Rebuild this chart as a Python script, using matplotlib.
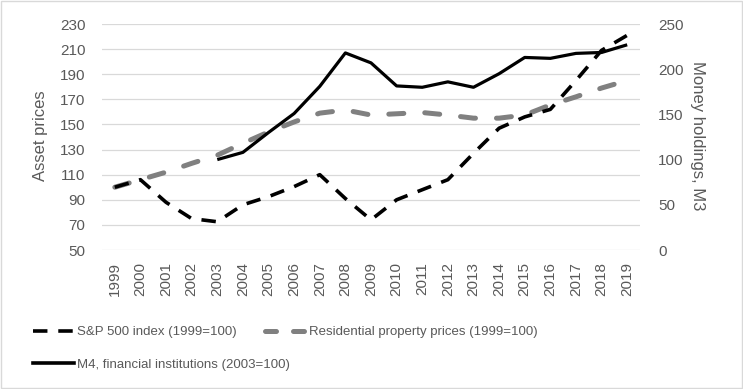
import numpy as np
import matplotlib
matplotlib.use("Agg")
import matplotlib.pyplot as plt
from matplotlib.lines import Line2D
from matplotlib.patches import Rectangle

# data
years = list(range(1999, 2020))
sp500 = [100, 106, 88, 75, 72.5, 86, 92.5, 100.5, 110, 91, 74, 90, 98, 106, 127, 147, 156, 162, 185, 209, 221]
property_prices = [100, 106, 112, 119, 125.5, 135, 144, 152, 159, 161.5, 157.5, 158.5, 159.5, 157.5, 155, 155, 157.5, 165.5, 172, 179, 185]
m4_years = list(range(2003, 2020))
m4 = [100, 108, 130, 151, 181, 218, 207, 181.5, 180, 186, 180, 195, 213, 212, 217.5, 218.5, 227]

left_ticks = [50, 70, 90, 110, 130, 150, 170, 190, 210, 230]
right_ticks = [0, 50, 100, 150, 200, 250]

txt = '#595959'
plt.rcParams['font.family'] = ['Liberation Sans', 'DejaVu Sans']

fig = plt.figure(figsize=(7.43, 3.89), dpi=100)
ax = fig.add_axes([102/743, 1-250/389, 538/743, 226/389])
ax2 = ax.twinx()

ax.plot(years, sp500, color='black', lw=2.6, dashes=(4, 3), dash_capstyle='butt', zorder=3)
ax.plot(years, property_prices, color='#808080', lw=3.6, dashes=(3, 4.2), dash_capstyle='round', zorder=2)
ax2.plot(m4_years, m4, color='black', lw=2.3, solid_capstyle='butt', zorder=3)

ax.set_ylim(50, 230)
ax.set_yticks(left_ticks)
ax2.set_ylim(0, 250)
ax2.set_yticks(right_ticks)
ax.set_xlim(1998.5, 2019.5)
ax.set_xticks(years)
ax.set_xticklabels([str(y) for y in years], rotation=90)

ax.grid(axis='y', color='#d9d9d9', lw=0.9)
ax.set_axisbelow(True)
for a in (ax, ax2):
    for s in a.spines.values():
        s.set_visible(False)
ax.tick_params(axis='y', length=0, pad=12, labelsize=11, labelcolor=txt)
ax.tick_params(axis='x', length=0, pad=9, labelsize=11, labelcolor=txt)
ax2.tick_params(axis='y', length=0, pad=13, labelsize=11, labelcolor=txt)

fig.text(40/743, 1-136/389, 'Asset prices', rotation=90, ha='center', va='center', fontsize=12, color=txt)
fig.text(698/743, 1-136/389, 'Money holdings, M3', rotation=-90, ha='center', va='center', fontsize=12, color=txt)

# legend, two blocks so the second column sits where it does in the reference
h_sp = Line2D([], [], color='black', lw=2.6, dashes=(4, 3))
h_pr = Line2D([], [], color='#808080', lw=3.6, dashes=(2.2, 3.4), dash_capstyle='round')
h_m4 = Line2D([], [], color='black', lw=2.6)
leg_kw = dict(loc='upper left', frameon=False, borderpad=0, borderaxespad=0, handlelength=3.1,
              handletextpad=0.25, labelspacing=1.55, labelcolor=txt,
              prop={'family': ['Liberation Sans', 'DejaVu Sans'], 'size': 9.5})
fig.legend([h_sp, h_m4], ['S&P 500 index (1999=100)', 'M4, financial institutions (2003=100)'],
           bbox_to_anchor=(33/743, 1-326/389), **leg_kw)
fig.legend([h_pr], ['Residential property prices (1999=100)'],
           bbox_to_anchor=(265/743, 1-326/389), **leg_kw)

fig.patches.append(Rectangle((0.001, 0.002), 0.997, 0.995, transform=fig.transFigure,
                             fill=False, edgecolor='#d9d9d9', lw=1))

fig.savefig('out.png', dpi=100)
